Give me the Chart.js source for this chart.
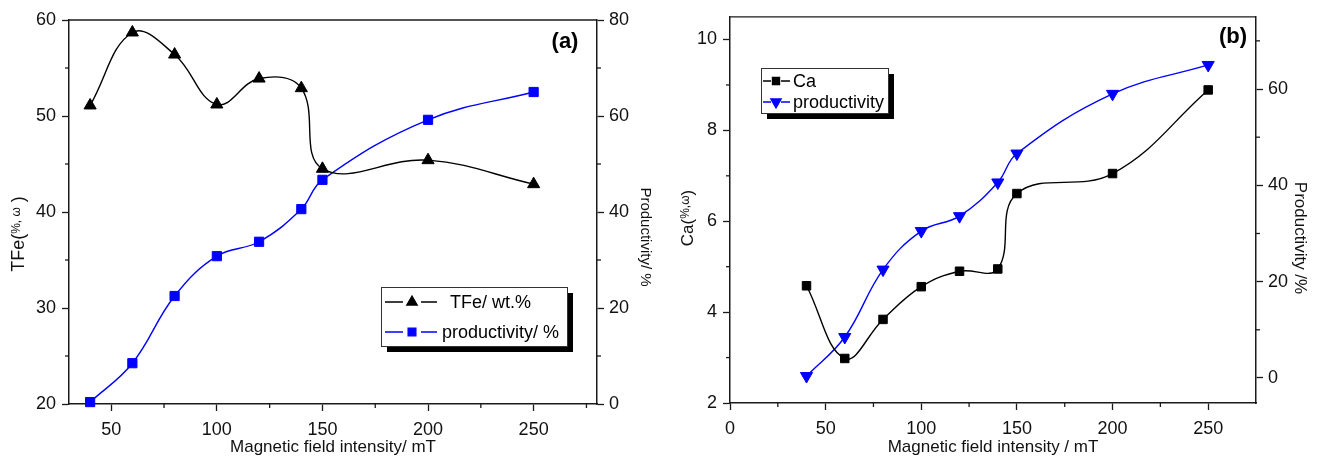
<!DOCTYPE html>
<html lang="en">
<head>
    <meta charset="UTF-8">
    <script src="https://cdn.jsdelivr.net/npm/chart.js"></script>
    <title>Campo magnético</title>
    <style>
        body { margin: 0; background: #fff; }
        .painel { position: absolute; top: 0; width: 660px; height: 460px; }
    </style>
</head>
<body>
    <div class="painel" style="left:0"><canvas id="graficoA" width="660" height="460"></canvas></div>
    <div class="painel" style="left:660px"><canvas id="graficoB" width="660" height="460"></canvas></div>

<script>
    // painel (a): TFe e produtividade
    var campoA = [40, 60, 80, 100, 120, 140, 150, 200, 250];
    var tfe = [51.1, 58.7, 56.4, 51.2, 53.9, 52.9, 44.5, 45.4, 42.9];
    var produtividadeA = [0.4, 8.5, 22.5, 30.8, 33.8, 40.6, 46.7, 59.2, 65.0];
    var ticksXA = [50, 100, 150, 200, 250];
    var minorXA = [75, 125, 175, 225, 275];
    var ticksTfe = [20, 30, 40, 50, 60];
    var minorTfe = [25, 35, 45, 55];
    var ticksProdA = [0, 20, 40, 60, 80];
    var minorProdA = [10, 30, 50, 70];

    // painel (b): Ca e produtividade
    var campoB = [40, 60, 80, 100, 120, 140, 150, 200, 250];
    var ca = [4.58, 2.98, 3.84, 4.56, 4.90, 4.95, 6.61, 7.05, 8.89];
    var produtividadeB = [0.4, 8.5, 22.5, 30.5, 33.6, 40.6, 46.6, 59.0, 65.0];
    var ticksXB = [0, 50, 100, 150, 200, 250];
    var minorXB = [25, 75, 125, 175, 225];
    var ticksCa = [2, 4, 6, 8, 10];
    var minorCa = [3, 5, 7, 9];
    var ticksProdB = [0, 20, 40, 60];
    var minorProdB = [10, 30, 50, 70];

    var fonte = 'Arial, "Liberation Sans", sans-serif';
    var corEixo = '#1a1a1a';

    function pontos(xs, ys) {
        return xs.map(function (x, i) { return { x: x, y: ys[i] }; });
    }

    function fixos(valores) {
        return function (scale) {
            scale.ticks = valores.map(function (v) { return { value: v }; });
        };
    }

    function eixo(pos, min, max, valores, largura, titulo, padTick) {
        var vertical = pos !== 'bottom';
        return {
            type: 'linear',
            position: pos,
            min: min,
            max: max,
            afterBuildTicks: fixos(valores),
            afterFit: function (s) {
                if (vertical) s.width = largura; else s.height = largura;
            },
            border: { display: true, color: corEixo, width: 1.5 },
            grid: { display: true, drawOnChartArea: false, drawTicks: true, tickLength: 7, tickColor: corEixo, tickWidth: 1.3 },
            ticks: { autoSkip: false, maxRotation: 0, padding: padTick, color: '#111', font: { family: fonte, size: 18 } },
            title: {
                display: !vertical, text: titulo, color: '#111',
                padding: { top: 0, bottom: 2 }, font: { family: fonte, size: 17 }
            }
        };
    }

    // título vertical em partes: [texto, tamanho]
    function tituloVertical(ctx, partes, x, y, ang) {
        ctx.save();
        ctx.translate(x, y);
        ctx.rotate(ang);
        var total = 0;
        partes.forEach(function (p) {
            ctx.font = p[1] + 'px ' + fonte;
            total += ctx.measureText(p[0]).width;
        });
        var pos = -total / 2;
        ctx.textAlign = 'left';
        ctx.textBaseline = 'middle';
        ctx.fillStyle = '#111';
        partes.forEach(function (p) {
            ctx.font = p[1] + 'px ' + fonte;
            ctx.fillText(p[0], pos, p[2] || 0);
            pos += ctx.measureText(p[0]).width;
        });
        ctx.restore();
    }

    // traços menores, borda superior, títulos verticais, rótulo do painel e legenda com sombra
    var moldura = {
        id: 'moldura',
        afterDraw: function (chart, args, opts) {
            var ctx = chart.ctx;
            var area = chart.chartArea;
            ctx.save();
            ctx.strokeStyle = corEixo;
            ctx.lineWidth = 1.3;
            ctx.beginPath();
            ctx.moveTo(area.left, area.top);
            ctx.lineTo(area.right, area.top);
            ctx.stroke();

            Object.keys(opts.menores).forEach(function (id) {
                var s = chart.scales[id];
                opts.menores[id].forEach(function (v) {
                    var p = s.getPixelForValue(v);
                    ctx.beginPath();
                    if (id === 'x') { ctx.moveTo(p, area.bottom); ctx.lineTo(p, area.bottom + 4); }
                    else if (s.position === 'left') { ctx.moveTo(area.left - 4, p); ctx.lineTo(area.left, p); }
                    else { ctx.moveTo(area.right, p); ctx.lineTo(area.right + 4, p); }
                    ctx.stroke();
                });
            });

            tituloVertical(ctx, opts.tituloEsq.partes, opts.tituloEsq.x, opts.tituloEsq.y, -Math.PI / 2);
            tituloVertical(ctx, opts.tituloDir.partes, opts.tituloDir.x, opts.tituloDir.y, Math.PI / 2);

            ctx.fillStyle = '#000';
            ctx.font = 'bold 22px ' + fonte;
            ctx.textAlign = 'center';
            ctx.textBaseline = 'middle';
            ctx.fillText(opts.rotulo, opts.rotuloX, opts.rotuloY);

            var L = opts.legenda;
            ctx.fillStyle = '#000';
            ctx.fillRect(L.x + 6, L.y + 6, L.w, L.h);
            ctx.fillStyle = '#fff';
            ctx.fillRect(L.x, L.y, L.w, L.h);
            ctx.strokeStyle = '#333';
            ctx.lineWidth = 1;
            ctx.strokeRect(L.x + 0.5, L.y + 0.5, L.w, L.h);

            ctx.font = '18px ' + fonte;
            ctx.textAlign = 'left';
            chart.data.datasets.forEach(function (ds, i) {
                var y = L.y + L.linha0 + i * L.passo;
                ctx.strokeStyle = ds.borderColor;
                ctx.lineWidth = 1.3;
                ctx.beginPath();
                ctx.moveTo(L.x + L.l0, y); ctx.lineTo(L.x + L.l1, y);
                ctx.moveTo(L.x + L.l2, y); ctx.lineTo(L.x + L.l3, y);
                ctx.stroke();
                ctx.fillStyle = ds.pointBackgroundColor;
                ctx.strokeStyle = ds.pointBackgroundColor;
                Chart.helpers.drawPoint(ctx, {
                    pointStyle: ds.pointStyle, radius: ds.pointRadius - 1,
                    rotation: ds.pointRotation || 0, borderWidth: 1
                }, L.x + (L.l1 + L.l2) / 2, y);
                ctx.fillStyle = '#000';
                ctx.fillText(ds.label, L.x + L.texto[i], y + 1);
            });
            ctx.restore();
        }
    };

    function serie(rotulo, dados, cor, estilo, raio, eixoY, rot) {
        return {
            label: rotulo,
            data: dados,
            yAxisID: eixoY,
            borderColor: cor,
            borderWidth: 1.4,
            tension: 0.4,
            pointStyle: estilo,
            pointRadius: raio,
            pointRotation: rot || 0,
            pointBackgroundColor: cor,
            pointBorderColor: cor,
            pointBorderWidth: 1,
            clip: false
        };
    }

    new Chart(document.getElementById('graficoA'), {
        type: 'line',
        data: {
            datasets: [
                serie('TFe/ wt.%', pontos(campoA, tfe), '#000000', 'triangle', 7, 'y'),
                serie('productivity/ %', pontos(campoA, produtividadeA), '#0000ff', 'rect', 6.5, 'y1')
            ]
        },
        options: {
            responsive: false,
            animation: false,
            layout: { padding: { top: 20, left: 0, right: 0, bottom: 0 } },
            scales: {
                x: eixo('bottom', 30, 280, ticksXA, 56, 'Magnetic field intensity/ mT', 8),
                y: eixo('left', 20, 60, ticksTfe, 69, '', 6),
                y1: eixo('right', 0, 80, ticksProdA, 63, '', 5)
            },
            plugins: {
                legend: { display: false },
                tooltip: { enabled: false },
                moldura: {
                    menores: { x: minorXA, y: minorTfe, y1: minorProdA },
                    tituloEsq: { x: 19, y: 234, partes: [['TFe(', 18], ['%, ω', 12, -2], [' )', 18]] },
                    tituloDir: { x: 645, y: 237, partes: [['Productivity/ %', 15]] },
                    rotulo: '(a)', rotuloX: 565, rotuloY: 42,
                    legenda: { x: 381, y: 287, w: 186, h: 59, linha0: 15, passo: 30,
                               l0: 4, l1: 22, l2: 40, l3: 56, texto: [69, 61] }
                }
            }
        },
        plugins: [moldura]
    });

    new Chart(document.getElementById('graficoB'), {
        type: 'line',
        data: {
            datasets: [
                serie('Ca', pontos(campoB, ca), '#000000', 'rect', 6, 'y'),
                serie('productivity', pontos(campoB, produtividadeB), '#0000ff', 'triangle', 7, 'y1', 180)
            ]
        },
        options: {
            responsive: false,
            animation: false,
            layout: { padding: { top: 14, left: 0, right: 0, bottom: 0 } },
            scales: {
                x: eixo('bottom', 0, 275, ticksXB, 57, 'Magnetic field intensity / mT', 8),
                y: eixo('left', 2, 10.5, ticksCa, 70, '', 6),
                y1: eixo('right', -5.2, 75, ticksProdB, 64, '', 5)
            },
            plugins: {
                legend: { display: false },
                tooltip: { enabled: false },
                moldura: {
                    menores: { x: minorXB, y: minorCa, y1: minorProdB },
                    tituloEsq: { x: 28, y: 218, partes: [['Ca(', 17], ['%,ω', 12, -2], [')', 17]] },
                    tituloDir: { x: 640, y: 238, partes: [['Productivity /%', 17]] },
                    rotulo: '(b)', rotuloX: 573, rotuloY: 37,
                    legenda: { x: 101, y: 68, w: 127, h: 45, linha0: 13, passo: 21,
                               l0: 2, l1: 10, l2: 20, l3: 29, texto: [32, 32] }
                }
            }
        },
        plugins: [moldura]
    });
</script>
</body>
</html>
